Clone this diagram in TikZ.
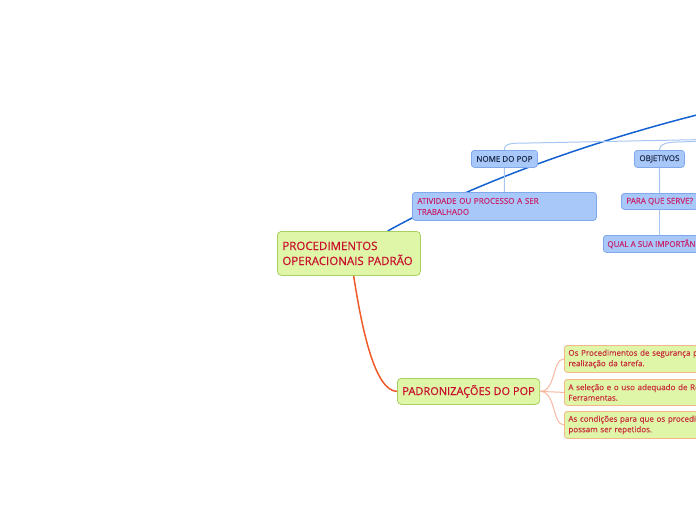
\documentclass[tikz,border=0pt]{standalone}
\usepackage{fontspec}
\setmainfont{Open Sans}
\newfontfamily\titlefont[FakeBold=0.6]{Open Sans}
\newfontfamily\smallfont[FakeBold=0.3]{Open Sans}
\usetikzlibrary{calc,backgrounds}
\definecolor{bfill}{HTML}{A8C8FA}
\definecolor{bdraw}{HTML}{82A8EC}
\definecolor{gfill}{HTML}{DFF5A8}
\definecolor{gdraw}{HTML}{A8D060}
\definecolor{odraw}{HTML}{F4B888}
\definecolor{navy}{HTML}{1E2C4C}
\definecolor{pinkred}{HTML}{C8246A}
\definecolor{crimson}{HTML}{C8102E}
\definecolor{bline}{HTML}{1462D2}
\definecolor{bthin}{HTML}{A8C6F2}
\definecolor{rline}{HTML}{F05A28}
\definecolor{othin}{HTML}{F8B8A0}
\definecolor{ctext}{HTML}{C8303C}
\tikzset{
  box/.style={rounded corners=3pt, line width=0.8pt, anchor=north west, inner sep=0pt, inner xsep=5pt},
  bluebox/.style={box, fill=bfill, draw=bdraw, font=\smallfont\fontsize{8}{11}\selectfont},
  greenbox/.style={box, rounded corners=4pt, fill=gfill, draw=gdraw, text=crimson},
  childbox/.style={box, fill=gfill, draw=odraw, text=ctext, inner xsep=4pt, text width=192pt, align=left, minimum height=27pt, font=\smallfont\fontsize{8}{10.5}\selectfont},
  thickblue/.style={draw=bline, line width=1.5pt},
  thinblue/.style={draw=bthin, line width=1pt},
  thickred/.style={draw=rline, line width=1.5pt},
  thinorange/.style={draw=othin, line width=1pt}
}
\begin{document}
\begin{tikzpicture}[x=1pt,y=-1pt]
\useasboundingbox (0,0) rectangle (696,520);
\clip (0,0) rectangle (696,520);
\coordinate (root) at (760,100);
\coordinate (hub) at (830,137);

\node[greenbox, minimum height=44pt, text width=133pt, align=left, font=\titlefont\fontsize{11.5}{15}\selectfont] (main) at (277,231) {PROCEDIMENTOS\\OPERACIONAIS PADRÃO};
\node[greenbox, minimum width=141pt, minimum height=26pt, font=\titlefont\fontsize{11}{13}\selectfont] (padr) at (397,378) {PADRONIZAÇÕES DO POP};

\node[bluebox, text=navy, minimum width=66pt, minimum height=17pt] (nome) at (471,150) {NOME DO POP};
\node[bluebox, text=navy, minimum width=50pt, minimum height=17pt] (obj) at (634,150) {OBJETIVOS};
\node[bluebox, text=pinkred, text width=174pt, align=left, minimum height=28pt] (ativ) at (412,192) {ATIVIDADE OU PROCESSO A SER\\TRABALHADO};
\node[bluebox, text=pinkred, minimum width=75pt, minimum height=16pt] (para) at (621,193) {PARA QUE SERVE?};
\node[bluebox, text=pinkred, minimum height=17pt, inner xsep=4pt] (qual) at (603,235) {QUAL A SUA IMPORTÂNCIA?};

\node[childbox] (c1) at (564,345) {Os Procedimentos de segurança para a\\realização da tarefa.};
\node[childbox, minimum height=26pt] (c2) at (564,379) {A seleção e o uso adequado de Recursos e\\Ferramentas.};
\node[childbox] (c3) at (564,411) {As condições para que os procedimentos\\possam ser repetidos.};

\begin{pgfonlayer}{background}
\draw[thickblue] (main.30) .. controls (470,185) and (600,135) .. (root);
\draw[thinblue] (nome.north) .. controls +(0,-7) and +(-18,0) .. ++(25,-7) -- (hub);
\draw[thinblue] (obj.north) .. controls +(0,-6) and +(-10,0) .. ++(18,-8) -- (hub);
\draw[thinblue] (nome.south) -- (ativ.north);
\draw[thinblue] (obj.south) -- (para.north);
\draw[thinblue] (para.south) -- (para.south |- qual.north);
\draw[thickred] (main.-78) .. controls (362,330) and (375,391) .. (padr.west);
\draw[thinorange] (padr.east) .. controls +(16,0) and +(-12,0) .. (c1.west);
\draw[thinorange] (padr.east) -- (c2.west);
\draw[thinorange] (padr.east) .. controls +(16,0) and +(-12,0) .. (c3.west);
\end{pgfonlayer}
\end{tikzpicture}
\end{document}
